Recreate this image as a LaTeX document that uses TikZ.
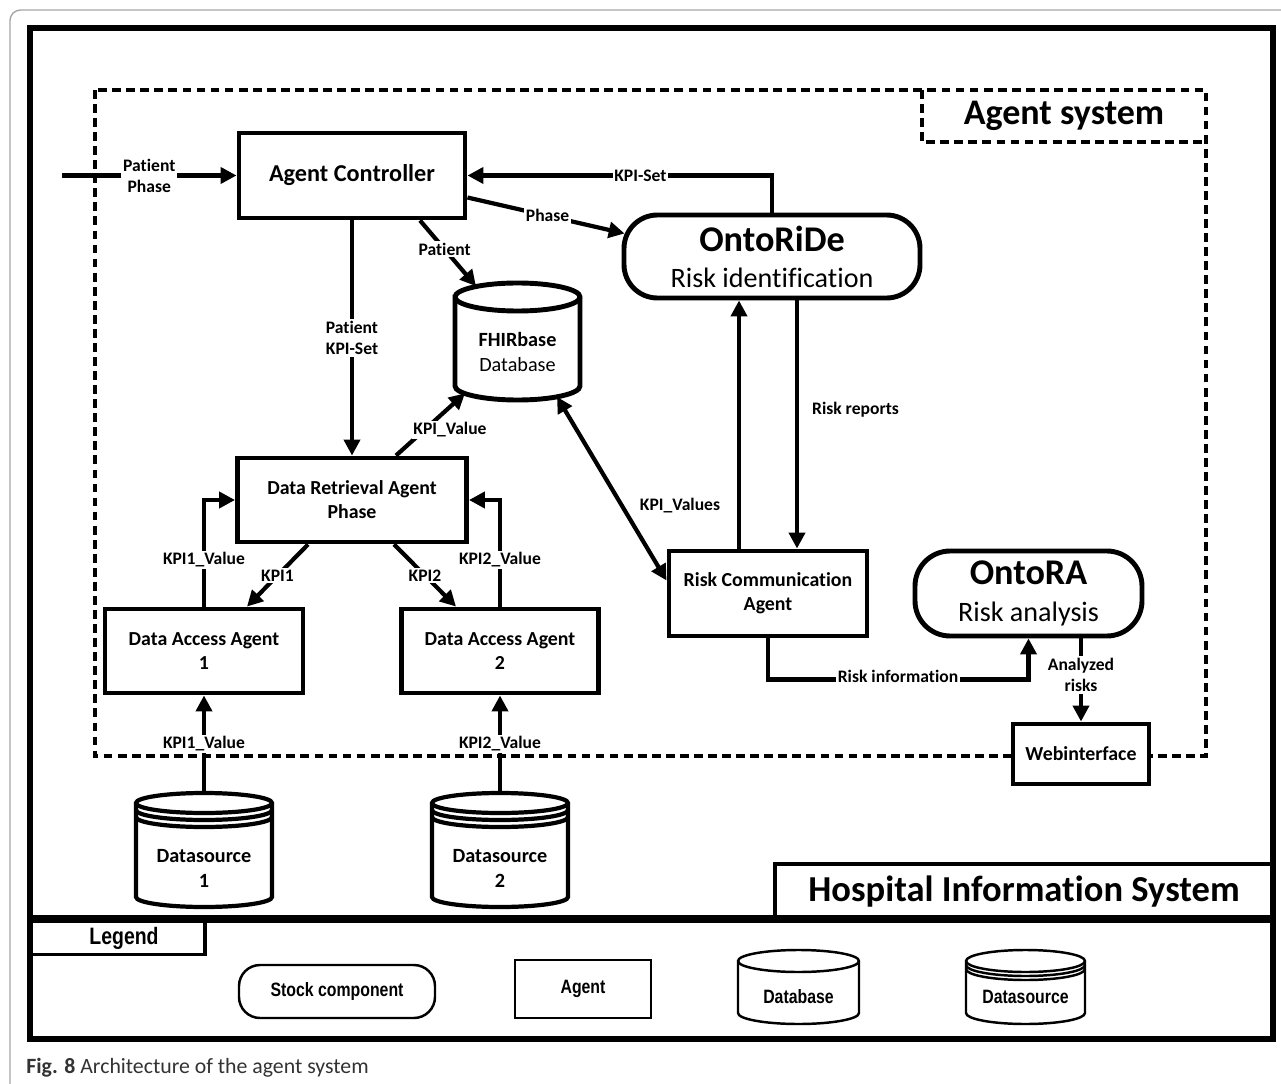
\documentclass[tikz,border=0pt]{standalone}
\usepackage{fontspec}
\setmainfont[Ligatures=NoCommon]{Carlito}
\newfontfamily\legfont[FakeStretch=0.82]{Liberation Sans}
\usetikzlibrary{arrows.meta,calc}
\def\px{0.02cm}
% cylinder: x1, x2, ytop, ybot, ry, extra-line offset (0 = none)
\newcommand\drawcyl[6]{%
  \pgfmathsetmacro\cylrx{(#2-#1)/2}%
  \pgfmathsetmacro\cylyt{#3+#5}%
  \pgfmathsetmacro\cylyb{#4-#5}%
  \draw[fill=white] (#1,\cylyt) -- (#1,\cylyb)
     arc[start angle=180,end angle=360,x radius=\cylrx*\px,y radius=#5*\px]
     -- (#2,\cylyt)
     arc[start angle=0,end angle=180,x radius=\cylrx*\px,y radius=#5*\px] -- cycle;
  \draw (#1,\cylyt) arc[start angle=180,end angle=360,x radius=\cylrx*\px,y radius=#5*\px];
  \ifdim #6pt>0pt
    \draw (#1,\cylyt+#6) arc[start angle=180,end angle=360,x radius=\cylrx*\px,y radius=#5*\px];
    \draw (#1,\cylyt+2*#6) arc[start angle=180,end angle=360,x radius=\cylrx*\px,y radius=#5*\px];
  \fi
}
\tikzset{
  box/.style={draw, line width=2.8pt, fill=white, inner sep=0pt, align=center,
              font=\bfseries\fontsize{11.3}{13.6}\selectfont},
  bigbox/.style={box, font=\bfseries\fontsize{13.8}{16}\selectfont},
  pill/.style={box, rounded corners=19pt, font=\fontsize{16}{20.5}\selectfont},
  conn/.style={line width=2.4pt, -{Triangle[length=9pt,width=9pt]}},
  dconn/.style={line width=2.4pt, {Triangle[length=9pt,width=9pt]}-{Triangle[length=9pt,width=9pt]}},
  lbl/.style={font=\bfseries\fontsize{10}{12}\selectfont, fill=white, inner sep=1pt, align=center},
  dashline/.style={line width=2.3pt, dash pattern=on 5pt off 3pt},
  anchorbox/.style={inner sep=0pt, draw=none},
  cyltxt/.style={font=\fontsize{11.5}{14}\selectfont, align=center},
  legtxt/.style={font=\legfont\bfseries\fontsize{11}{13}\selectfont},
  legline/.style={line width=1.4pt},
}
\begin{document}
\begin{tikzpicture}[x=0.02cm, y=-0.02cm]
\useasboundingbox (0,0) rectangle (1281,1084);
\fill[white] (0,0) rectangle (1281,1084);

% outer figure frame
\draw[gray!70, line width=0.8pt, rounded corners=6pt] (10,1100) -- (10,10) -- (1300,10);

% HIS label box and legend label box
\node[draw, line width=2.8pt, inner sep=0pt, minimum width=498*\px, minimum height=55*\px,
      font=\bfseries\fontsize{20.8}{24}\selectfont] (his) at (1024,891.5) {Hospital Information System};
\node[draw, line width=2.2pt, inner sep=0pt, minimum width=175*\px, minimum height=35*\px] (leg) at (117.5,937) {};
\node[anchorbox, font=\legfont\bfseries\fontsize{13.5}{15}\selectfont] (legt) at (124,938) {Legend};

% main frame
\draw[line width=3pt] (30,28) rectangle (1273,1039);
\draw[line width=4.5pt] (30,919) -- (1273,919);

% agent system boundary
\draw[dashline] (95,90) rectangle (1206,756);
\draw[dashline] (922,90) -- (922,142) -- (1206,142);
\node[anchorbox, font=\bfseries\fontsize{20.5}{24}\selectfont] (agsys) at (1064,116) {Agent system};

% cylinders
\begin{scope}[line width=2.8pt]
  \drawcyl{455}{580}{283}{400}{14}{0}
\end{scope}
\begin{scope}[line width=2.4pt]
  \drawcyl{136}{272}{793}{907}{10}{7}
  \drawcyl{432}{568}{793}{907}{10}{7}
\end{scope}
\node[anchorbox, minimum width=125*\px, minimum height=117*\px] (fhir) at (517.5,341.5) {};
\node[cyltxt] (fhirt) at (517.5,352) {\textbf{FHIRbase}\\Database};
\node[anchorbox, minimum width=136*\px, minimum height=114*\px] (ds1) at (204,850) {};
\node[cyltxt, font=\bfseries\fontsize{11.5}{14}\selectfont] (ds1t) at (204,868.5) {Datasource\\1};
\node[anchorbox, minimum width=136*\px, minimum height=114*\px] (ds2) at (500,850) {};
\node[cyltxt, font=\bfseries\fontsize{11.5}{14}\selectfont] (ds2t) at (500,868.5) {Datasource\\2};

% boxes
\node[bigbox, minimum width=226*\px, minimum height=85*\px] (ac) at (352,175.5) {Agent Controller};
\node[pill, minimum width=296*\px, minimum height=83*\px] (ride) at (772,256.5)
  {{\bfseries\fontsize{20.6}{20.5}\selectfont OntoRiDe}\\Risk identification};
\node[box, minimum width=229*\px, minimum height=84*\px] (dra) at (352,500) {Data Retrieval Agent\\Phase};
\node[box, minimum width=198*\px, minimum height=84*\px] (daa1) at (204,651) {Data Access Agent\\1};
\node[box, minimum width=197*\px, minimum height=84*\px] (daa2) at (500,651) {Data Access Agent\\2};
\node[box, minimum width=198*\px, minimum height=85*\px] (rca) at (768,593.5) {Risk Communication\\Agent};
\node[pill, rounded corners=20pt, minimum width=227*\px, minimum height=85*\px, font=\fontsize{16}{21.5}\selectfont] (ra) at (1028.5,593.5)
  {{\bfseries\fontsize{20.6}{21.5}\selectfont OntoRA}\\Risk analysis};
\node[box, minimum width=136*\px, minimum height=60*\px] (web) at (1081,754) {Webinterface};

% connectors
\coordinate (pin) at (62,175.5);
\draw[conn] (pin) -- node[lbl]{Patient\\Phase} (ac.west);
\draw[conn] (ride.north) |- node[lbl,pos=0.716]{KPI-Set} (ac.east);
\draw[conn] ($(ac.east)+(0,22)$) -- node[lbl,pos=0.51]{Phase} ($(ride.west)+(3,-23)$);
\draw[conn] ($(ac.south)+(68,0)$) -- node[lbl,pos=0.44]{Patient} ($(fhir.north)+(-41.5,3.5)$);
\draw[conn] (ac.south) -- node[lbl]{Patient\\KPI-Set} (dra.north);
\draw[conn] ($(dra.north)+(44,0)$) -- ($(fhir.south)+(-52.5,-7)$);
\draw[dconn] ($(fhir.south)+(39.5,-3.5)$) -- ($(rca.west)+(0,-13)$);
\draw[conn] ($(rca.north)+(-29,0)$) coordinate (u1) -- (u1 |- ride.south);
\draw[conn] ($(ride.south)+(25,0)$) coordinate (d1) -- (d1 |- rca.north);
\draw[conn] (daa1.north) |- node[lbl,pos=0.22]{KPI1\_Value} (dra.west);
\draw[conn] ($(dra.south)+(-44,0)$) -- node[lbl]{KPI1} ($(daa1.north)+(43,0)$);
\draw[conn] ($(dra.south)+(42,0)$) -- node[lbl]{KPI2} ($(daa2.north)+(-44,0)$);
\draw[conn] (daa2.north) |- node[lbl,pos=0.22]{KPI2\_Value} (dra.east);
\draw[conn] (ds1.north) -- node[lbl]{KPI1\_Value} (daa1.south);
\draw[conn] (ds2.north) -- node[lbl]{KPI2\_Value} (daa2.south);
\draw[conn] (rca.south) -- ++(0,41) -| (ra.south);
\draw[conn] (web.north |- ra.south) -- node[lbl,pos=0.44]{Analyzed\\risks} (web.north);

% free labels
\node[lbl] (lkv) at (450,430) {KPI\_Value};
\node[lbl] (lkvs) at (680,506) {KPI\_Values};
\node[lbl, anchor=west] (lrr) at (810,410) {Risk reports};
\node[lbl] (lri) at (898,676) {Risk information};

% legend
\node[draw, legline, rounded corners=12pt, inner sep=0pt, minimum width=196*\px, minimum height=53*\px, legtxt] (lgs) at (337,991.5) {Stock component};
\node[draw, legline, inner sep=0pt, minimum width=136*\px, minimum height=58*\px, legtxt] (lga) at (583,989) {\raisebox{-2pt}{Agent}};
\begin{scope}[line width=1.4pt]
  \drawcyl{738}{859}{950}{1024}{11}{0}
  \drawcyl{966}{1085}{950}{1024}{11}{4}
\end{scope}
\node[anchorbox, legtxt] (lgdb) at (798.5,997) {Database};
\node[anchorbox, legtxt] (lgds) at (1025.5,997) {Datasource};

% caption
\node[anchor=west, inner sep=0pt, text=black!80, font=\fontsize{12.4}{14}\selectfont] (cap) at (26,1068)
  {\textbf{Fig. 8} Architecture of the agent system};
\end{tikzpicture}
\end{document}
